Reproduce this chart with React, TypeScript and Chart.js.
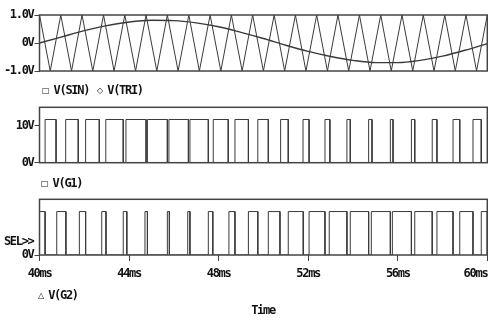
import React, { useEffect, useRef } from "react";
import { Chart, registerables } from "chart.js";

Chart.register(...registerables);

// ---------- data ----------
const TIME_MIN = 40;
const TIME_MAX = 60;
const TIME_TICKS = [40, 44, 48, 52, 56, 60];
const TIME_TICK_LABELS = ["40ms", "44ms", "48ms", "52ms", "56ms", "60ms"];

const SIN_TIME = [40, 41, 42, 43, 44, 45, 46, 47, 48, 49, 50, 51, 52, 53, 54, 55, 56, 57, 58, 59, 60];
const SIN_VALUE = [0.0, 0.22, 0.44, 0.62, 0.75, 0.81, 0.8, 0.72, 0.58, 0.38, 0.16, -0.08, -0.3, -0.48, -0.62, -0.7, -0.7, -0.62, -0.47, -0.26, -0.02];

const TRI_TIME = [
  40.0, 40.48, 40.95, 41.43, 41.9, 42.38, 42.86, 43.33, 43.81, 44.29, 44.76, 45.24, 45.71, 46.19, 46.67,
  47.14, 47.62, 48.1, 48.57, 49.05, 49.52, 50.0, 50.48, 50.95, 51.43, 51.9, 52.38, 52.86, 53.33, 53.81,
  54.29, 54.76, 55.24, 55.71, 56.19, 56.67, 57.14, 57.62, 58.1, 58.57, 59.05, 59.52, 60.0,
];
const TRI_VALUE = [
  1, -1, 1, -1, 1, -1, 1, -1, 1, -1, 1, -1, 1, -1, 1, -1, 1, -1, 1, -1, 1, -1,
  1, -1, 1, -1, 1, -1, 1, -1, 1, -1, 1, -1, 1, -1, 1, -1, 1, -1, 1, -1, 1,
];

const G1_RISE = [40.25, 41.17, 42.06, 42.96, 43.86, 44.82, 45.78, 46.72, 47.76, 48.73, 49.75, 50.77, 51.77, 52.75, 53.73, 54.7, 55.67, 56.61, 57.54, 58.47, 59.36];
const G1_FALL = [40.74, 41.73, 42.67, 43.74, 44.76, 45.71, 46.65, 47.54, 48.43, 49.33, 50.22, 51.11, 52.04, 52.97, 53.88, 54.85, 55.79, 56.76, 57.75, 58.77, 59.73];

const G2_RISE = [40.0, 40.77, 41.78, 42.78, 43.74, 44.71, 45.71, 46.62, 47.54, 48.46, 49.33, 50.22, 51.11, 52.04, 52.94, 53.88, 54.82, 55.76, 56.76, 57.75, 58.77, 59.73];
const G2_FALL = [40.25, 41.18, 42.06, 42.97, 43.9, 44.82, 45.8, 46.72, 47.74, 48.73, 49.75, 50.74, 51.78, 52.75, 53.73, 54.7, 55.67, 56.61, 57.54, 58.47, 59.36, 60.0];

const GATE_HIGH = 11.7;

const PANEL1_RANGE = [-1, 1];
const PANEL1_TICKS = [-1, 0, 1];
const PANEL1_TICK_LABELS = ["-1.0V", "0V", "1.0V"];
const PANEL2_RANGE = [0, 15];
const PANEL2_TICKS = [0, 10];
const PANEL2_TICK_LABELS = ["0V", "10V"];
const PANEL3_RANGE = [0, 15];
const PANEL3_TICKS = [0, 3.5];
const PANEL3_TICK_LABELS = ["0V", "SEL>>"];

// ---------- styling ----------
const FONT = "'DejaVu Sans Mono', 'Liberation Mono', monospace";
const TEXT = "#111";
const LINE = "#3a3a3a";
const SPACING = "-1.3px";

const framePlugin = {
  id: "frame",
  beforeDraw(chart: any) {
    try {
      chart.ctx.letterSpacing = SPACING;
    } catch (e) {}
  },
  afterDatasetsDraw(chart: any) {
    const { ctx, chartArea: a } = chart;
    ctx.save();
    ctx.strokeStyle = "#444";
    ctx.lineWidth = 1.5;
    ctx.strokeRect(a.left, a.top, a.right - a.left, a.bottom - a.top);
    ctx.restore();
  },
};

function pulsePoints(rise: number[], fall: number[], high: number) {
  const pts: { x: number; y: number }[] = [{ x: TIME_MIN, y: 0 }];
  for (let i = 0; i < rise.length; i++) {
    pts.push({ x: rise[i], y: 0 }, { x: rise[i], y: high }, { x: fall[i], y: high }, { x: fall[i], y: 0 });
  }
  pts.push({ x: TIME_MAX, y: 0 });
  return pts;
}

function zip(xs: number[], ys: number[]) {
  return xs.map((x, i) => ({ x, y: ys[i] }));
}

function buildConfig(
  datasets: any[],
  range: number[],
  yTicks: number[],
  yLabels: string[],
  showX: boolean,
  padding: any
): any {
  const font = { family: FONT, size: 12, weight: "bold" as const };
  return {
    type: "line",
    data: { datasets },
    plugins: [framePlugin],
    options: {
      animation: false,
      responsive: false,
      events: [],
      layout: { padding },
      plugins: { legend: { display: false }, tooltip: { enabled: false } },
      elements: { point: { radius: 0 } },
      scales: {
        x: {
          type: "linear",
          min: TIME_MIN,
          max: TIME_MAX,
          display: showX,
          afterBuildTicks: (s: any) => {
            s.ticks = TIME_TICKS.map((v) => ({ value: v }));
          },
          afterFit: (s: any) => {
            s.height = showX ? 30 : 0;
            s.paddingLeft = 0;
            s.paddingRight = 0;
          },
          ticks: {
            autoSkip: false,
            maxRotation: 0,
            padding: 6,
            color: TEXT,
            font,
            callback: (v: number) => {
              const i = TIME_TICKS.indexOf(v);
              if (i < 0) return "";
              return i === TIME_TICKS.length - 1 ? TIME_TICK_LABELS[i] + "    " : TIME_TICK_LABELS[i];
            },
          },
          grid: { drawOnChartArea: false, tickLength: 6, color: "#444", lineWidth: 1 },
          border: { display: false },
        },
        y: {
          type: "linear",
          min: range[0],
          max: range[1],
          afterBuildTicks: (s: any) => {
            s.ticks = yTicks.map((v) => ({ value: v }));
          },
          afterFit: (s: any) => {
            s.width = 39.5;
            s.paddingTop = 0;
            s.paddingBottom = 0;
          },
          ticks: {
            padding: 1,
            color: TEXT,
            font,
            callback: (v: number) => {
              const i = yTicks.indexOf(v);
              return i < 0 ? "" : yLabels[i];
            },
          },
          grid: {
            drawOnChartArea: false,
            tickLength: 5,
            lineWidth: 1,
            color: (ctx: any) => {
              const i = ctx.tick ? yTicks.indexOf(ctx.tick.value) : -1;
              return i >= 0 && yLabels[i] === "SEL>>" ? "rgba(0,0,0,0)" : "#444";
            },
          },
          border: { display: false },
        },
      },
    },
  };
}

const abs = (left: number, top: number): React.CSSProperties => ({
  position: "absolute",
  left,
  top,
  lineHeight: "12px",
  whiteSpace: "pre",
});
const sym: React.CSSProperties = {
  fontFamily: "'DejaVu Sans', sans-serif",
  fontSize: 8,
  fontWeight: "normal",
  letterSpacing: 0,
  marginRight: 4,
  verticalAlign: "1px",
};

export default function App() {
  const r1 = useRef<HTMLCanvasElement>(null);
  const r2 = useRef<HTMLCanvasElement>(null);
  const r3 = useRef<HTMLCanvasElement>(null);

  useEffect(() => {
    const c1 = new Chart(
      r1.current!,
      buildConfig(
        [
          { data: zip(SIN_TIME, SIN_VALUE), borderColor: LINE, borderWidth: 1.4, cubicInterpolationMode: "monotone" },
          { data: zip(TRI_TIME, TRI_VALUE), borderColor: LINE, borderWidth: 1, tension: 0 },
        ],
        PANEL1_RANGE,
        PANEL1_TICKS,
        PANEL1_TICK_LABELS,
        false,
        { top: 15, bottom: 9, left: 0, right: 0.7 }
      )
    );
    const c2 = new Chart(
      r2.current!,
      buildConfig(
        [{ data: pulsePoints(G1_RISE, G1_FALL, GATE_HIGH), borderColor: LINE, borderWidth: 1, tension: 0 }],
        PANEL2_RANGE,
        PANEL2_TICKS,
        PANEL2_TICK_LABELS,
        false,
        { top: 12.3, bottom: 7.3, left: 0, right: 0.7 }
      )
    );
    const c3 = new Chart(
      r3.current!,
      buildConfig(
        [{ data: pulsePoints(G2_RISE, G2_FALL, GATE_HIGH), borderColor: LINE, borderWidth: 1, tension: 0 }],
        PANEL3_RANGE,
        PANEL3_TICKS,
        PANEL3_TICK_LABELS,
        true,
        { top: 9.3, bottom: 35, left: 0, right: 0.7 }
      )
    );
    return () => {
      c1.destroy();
      c2.destroy();
      c3.destroy();
    };
  }, []);

  return (
    <div
      style={{
        position: "fixed",
        left: 0,
        top: 0,
        width: 488,
        height: 320,
        background: "#fff",
        overflow: "hidden",
        fontFamily: FONT,
        fontWeight: "bold",
        fontSize: 12,
        letterSpacing: SPACING,
        color: TEXT,
      }}
    >
      <canvas ref={r1} width={488} height={80} style={{ position: "absolute", left: 0, top: 0 }} />
      <canvas ref={r2} width={488} height={75} style={{ position: "absolute", left: 0, top: 95 }} />
      <canvas ref={r3} width={488} height={130} style={{ position: "absolute", left: 0, top: 190 }} />
      <div style={abs(42, 84)}>
        <span style={sym}>□</span>V(SIN) <span style={{ ...sym, marginLeft: 2 }}>◇</span>V(TRI)
      </div>
      <div style={abs(41, 177)}>
        <span style={sym}>□</span>V(G1)
      </div>
      <div style={abs(38, 289)}>
        <span style={sym}>△</span>V(G2)
      </div>
      <div style={{ ...abs(0, 304), width: 526, textAlign: "center" }}>Time</div>
    </div>
  );
}
